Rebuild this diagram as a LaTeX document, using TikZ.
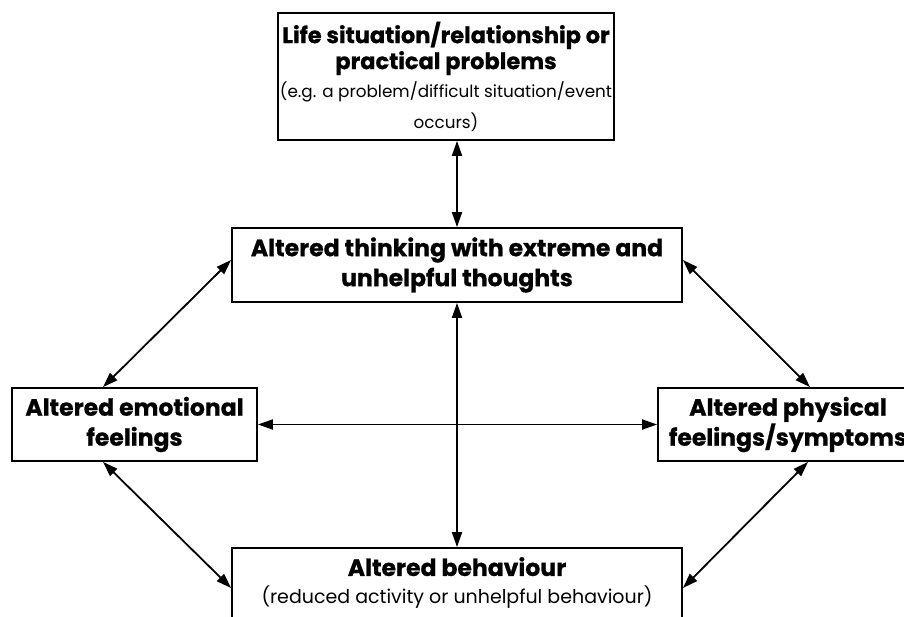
\documentclass[tikz,border=0pt]{standalone}
\usepackage{fontspec}
\setmainfont{Poppins}[BoldFeatures={FakeBold=0.8}]
\usetikzlibrary{arrows.meta}
\begin{document}
\begin{tikzpicture}[x=1pt,y=-1pt,
  box/.style={draw, line width=1.8pt, inner sep=0pt, align=center},
  hdfont/.style={font=\fontsize{23.5}{30}\selectfont\bfseries},
  biarrow/.style={line width=1.8pt, {Triangle[length=15pt,width=10pt]}-{Triangle[length=15pt,width=10pt]}}]
\useasboundingbox (0,0) rectangle (904,616);
\clip (0,0) rectangle (904,616);
\fill[white] (0,0) rectangle (904,616);
\node[box, minimum width=336pt, minimum height=127pt, font=\fontsize{22.5}{26}\selectfont] (top) at (446,76.5)
  {\bfseries Life situation/relationship or\\
   \bfseries practical problems\\[2pt]
   \fontsize{16.8}{26}\selectfont (e.g. a problem/difficult situation/event\\[5pt]
   \fontsize{16.8}{26}\selectfont occurs)};
\node[box, hdfont, minimum width=450pt, minimum height=74pt] (mid) at (457,265)
  {Altered thinking with extreme and\\unhelpful thoughts};
\node[box, hdfont, minimum width=245pt, minimum height=73pt] (lft) at (134.5,424.5)
  {Altered emotional\\feelings};
\node[box, hdfont, minimum width=260pt, minimum height=73pt] (rgt) at (788,424.5)
  {Altered physical\\feelings/symptoms};
\node[box, minimum width=450pt, minimum height=70pt, font=\fontsize{23.5}{28}\selectfont] (bot) at (457,583)
  {\bfseries Altered behaviour\\
   \fontsize{19}{28}\selectfont (reduced activity or unhelpful behaviour)};
\draw[biarrow] (top.south -| mid.north) -- (mid.north);
\draw[biarrow] (mid.south) -- (bot.north);
\draw[biarrow] (lft.east) -- (rgt.west);
\draw[biarrow] ([yshift=5pt]mid.west) -- ([xshift=-31.5pt]lft.north);
\draw[biarrow] ([yshift=5pt]mid.east) -- ([xshift=22pt]rgt.north);
\draw[biarrow] ([xshift=-31.5pt]lft.south) -- ([yshift=-5pt]bot.west);
\draw[biarrow] ([xshift=20pt]rgt.south) -- ([yshift=-5pt]bot.east);
\end{tikzpicture}
\end{document}
